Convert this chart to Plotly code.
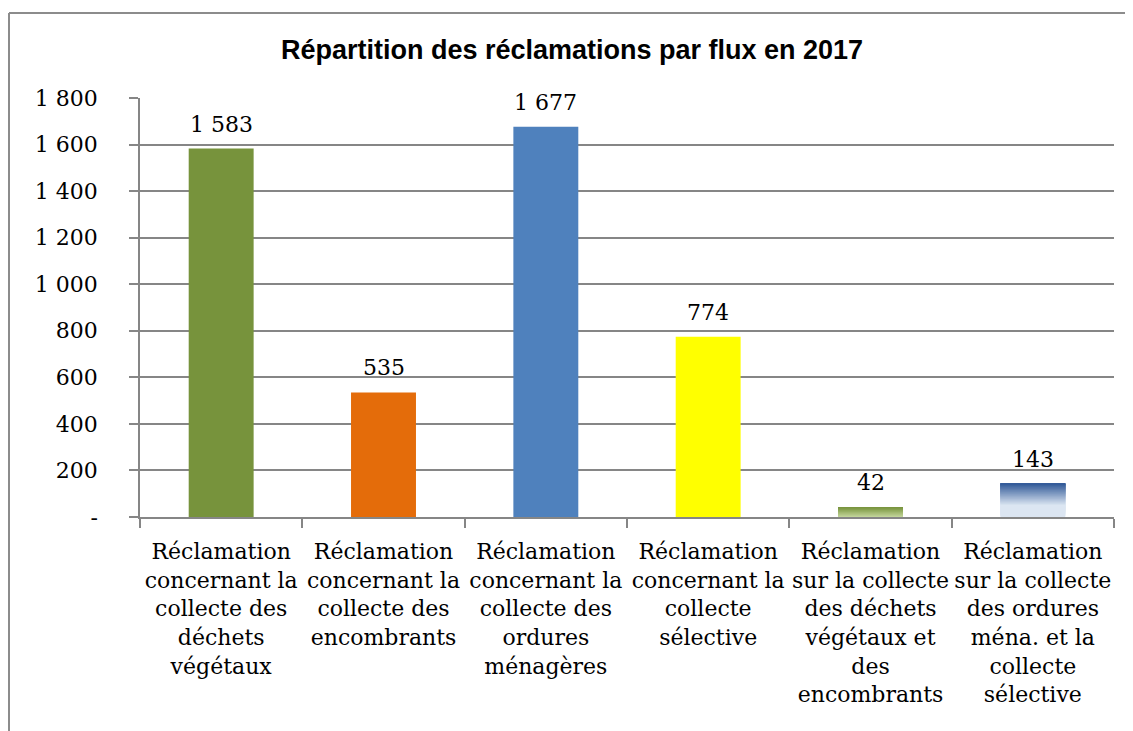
import plotly.graph_objects as go

categories = [
    "Réclamation<br>concernant la<br>collecte des<br>déchets<br>végétaux",
    "Réclamation<br>concernant la<br>collecte des<br>encombrants",
    "Réclamation<br>concernant la<br>collecte des<br>ordures<br>ménagères",
    "Réclamation<br>concernant la<br>collecte<br>sélective",
    "Réclamation<br>sur la collecte<br>des déchets<br>végétaux et<br>des<br>encombrants",
    "Réclamation<br>sur la collecte<br>des ordures<br>ména. et la<br>collecte<br>sélective",
]
values = [1583, 535, 1677, 774, 42, 143]
bar_colors = ["#77933C", "#E46C0A", "#4F81BD", "#FFFF00", None, None]
# gradient bars: (top colour, bottom colour)
gradients = {4: ("#77933C", "#C3D69B"), 5: ("#2C5595", "#DCE6F2")}

y_tickvals = [0, 200, 400, 600, 800, 1000, 1200, 1400, 1600, 1800]
y_ticktext = ["-", "200", "400", "600", "800", "1 000", "1 200", "1 400", "1 600", "1 800"]
value_labels = ["1 583", "535", "1 677", "774", "42", "143"]

title = "Répartition des réclamations par flux en 2017"

SERIF = "DejaVu Serif"
fig = go.Figure()

solid_colors = [c if c is not None else "rgba(0,0,0,0)" for c in bar_colors]
fig.add_trace(go.Bar(x=categories, y=values, marker=dict(color=solid_colors, line=dict(width=0)),
                     width=0.4, showlegend=False, hoverinfo="skip"))


def mix(c1, c2, t):
    a = [int(c1[i:i + 2], 16) for i in (1, 3, 5)]
    b = [int(c2[i:i + 2], 16) for i in (1, 3, 5)]
    return "rgb(%d,%d,%d)" % tuple(round(a[k] + (b[k] - a[k]) * t) for k in range(3))


N = 30
for idx, (top, bottom) in gradients.items():
    v = values[idx]
    seg = v / N
    for k in range(N):
        base = k * seg
        t = 1 - k / N  # 1 at bottom, ~0 at top
        t2 = min(1.0, t * 1.5) if idx == 5 else t
        fig.add_trace(go.Bar(x=[categories[idx]], y=[v - base], base=[base], width=0.4,
                             marker=dict(color=mix(top, bottom, t2), line=dict(width=0)),
                             showlegend=False, hoverinfo="skip"))

for cat, v, lab in zip(categories, values, value_labels):
    fig.add_annotation(x=cat, y=v, text=lab, showarrow=False, yanchor="bottom", yshift=10,
                       font=dict(family=SERIF, size=22, color="#000000"))

frame_col = "#8C8C8C"
fig.add_shape(type="line", xref="paper", yref="paper", x0=-0.1345, x1=-0.1345, y0=-0.6, y1=1.2029,
              line=dict(color=frame_col, width=2))
fig.add_shape(type="line", xref="paper", yref="paper", x0=-0.1345, x1=1.2, y0=1.2029, y1=1.2029,
              line=dict(color=frame_col, width=2))

fig.update_layout(
    width=1125, height=723,
    barmode="overlay",
    paper_bgcolor="white", plot_bgcolor="white",
    margin=dict(l=132, r=19, t=90, b=214, autoexpand=False),
    title=dict(text="<b>" + title + "</b>", x=(572 - 8) / 1125, xanchor="center", y=1 - 42 / 723,
               yanchor="middle", xref="container",
               font=dict(family="Liberation Sans", size=27, color="#000000")),
    xaxis=dict(type="category", tickson="boundaries", ticks="outside", ticklen=9, tickcolor="#868686",
               tickwidth=1.5, showline=True, linecolor="#868686", linewidth=1.5, showgrid=False,
               tickangle=0, automargin=False,
               tickfont=dict(family=SERIF, size=22, color="#000000"), ticklabelstandoff=14),
    yaxis=dict(range=[0, 1800], tickvals=y_tickvals, ticktext=y_ticktext, ticks="outside", ticklen=9,
               tickcolor="#868686", tickwidth=1.5, showline=True, linecolor="#868686", linewidth=1.5,
               showgrid=True, gridcolor="#868686", gridwidth=1.5, zeroline=False, automargin=False,
               tickfont=dict(family=SERIF, size=22, color="#000000"), ticklabelstandoff=27),
)

fig.write_html("out.html")
